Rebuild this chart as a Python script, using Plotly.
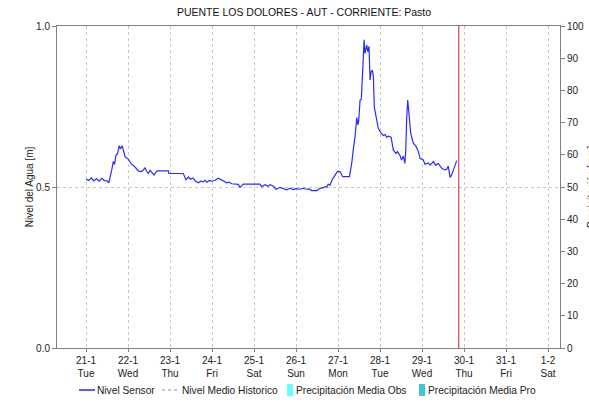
import pandas as pd
import plotly.graph_objects as go

# ---------------- data ----------------
base_date = "2025-01-21"
hours = [0, 1.5, 3, 4.5, 6, 7.5, 9, 10.5, 12, 13, 14.7, 15.6, 16.3, 17.1, 18, 18.9, 19.7, 20.7,
         22.3, 24.2, 26.1, 28, 29.9, 31.4, 32.7, 33.7, 34.7, 35.6, 36.6, 37.7, 38.9, 40, 40.7,
         47, 47.4, 55.6, 57.1, 58.5, 59.7, 61.1, 62.6, 64.2, 65.4, 66.9, 68, 69.1, 70.3, 72,
         73.7, 75.6, 76.6, 77.7, 78.9, 80.4, 81.7, 83.3, 87, 88, 89.9, 99.4, 100.4, 102.3, 104,
         105.1, 106.9, 108.6, 110.9, 112.6, 114.7, 116.6, 118.3, 120, 122.3, 124, 126.1, 127.4,
         128.9, 131.8, 133.7, 135.4, 136.6, 137.5, 138.4, 139.4, 140.4, 142.3, 143.6, 145.1,
         146.7, 150.5, 151.8, 152.8, 153.7, 154.7, 155.3, 155.8, 156.6, 157.3, 158.1, 158.9,
         159.4, 160.4, 161, 161.7, 162.3, 162.9, 163.6, 164.2, 164.7, 166.1, 167, 168.6, 169.9,
         170.9, 171.8, 172.7, 174.3, 175.6, 177.1, 177.9, 179.3, 180.3, 181.3, 182.2, 182.7,
         183.2, 183.8, 184.6, 185.5, 187, 188.6, 189.9, 190.9, 192.7, 193.7, 195.6, 196.6,
         198.5, 199.8, 201.3, 203.3, 205.1, 206.1, 207, 208, 208.9, 209.9, 210.9, 211.8]
level = [0.525, 0.520, 0.528, 0.519, 0.526, 0.518, 0.527, 0.520, 0.519, 0.513, 0.553, 0.579,
         0.570, 0.599, 0.603, 0.628, 0.618, 0.628, 0.594, 0.586, 0.570, 0.562, 0.550, 0.548,
         0.552, 0.560, 0.548, 0.542, 0.552, 0.545, 0.537, 0.546, 0.550, 0.550, 0.542, 0.542,
         0.522, 0.531, 0.524, 0.528, 0.518, 0.513, 0.518, 0.516, 0.521, 0.515, 0.520, 0.518,
         0.521, 0.527, 0.524, 0.522, 0.518, 0.513, 0.515, 0.510, 0.508, 0.499, 0.509, 0.509,
         0.501, 0.507, 0.502, 0.507, 0.503, 0.493, 0.499, 0.495, 0.491, 0.496, 0.492, 0.495,
         0.493, 0.496, 0.493, 0.494, 0.489, 0.489, 0.496, 0.497, 0.501, 0.499, 0.509, 0.505,
         0.520, 0.537, 0.548, 0.548, 0.532, 0.532, 0.573, 0.620, 0.656, 0.716, 0.693, 0.705,
         0.770, 0.772, 0.863, 0.957, 0.915, 0.941, 0.920, 0.937, 0.832, 0.858, 0.863, 0.845,
         0.749, 0.708, 0.682, 0.667, 0.660, 0.663, 0.654, 0.658, 0.655, 0.615, 0.604, 0.610,
         0.599, 0.584, 0.596, 0.573, 0.615, 0.708, 0.770, 0.724, 0.667, 0.636, 0.626, 0.610,
         0.589, 0.584, 0.571, 0.575, 0.568, 0.579, 0.568, 0.573, 0.558, 0.553, 0.555, 0.565,
         0.530, 0.537, 0.553, 0.571, 0.582]

tick_dates = ["2025-01-21", "2025-01-22", "2025-01-23", "2025-01-24", "2025-01-25",
              "2025-01-26", "2025-01-27", "2025-01-28", "2025-01-29", "2025-01-30",
              "2025-01-31", "2025-02-01"]
tick_labels = ["21-1<br>Tue", "22-1<br>Wed", "23-1<br>Thu", "24-1<br>Fri", "25-1<br>Sat",
               "26-1<br>Sun", "27-1<br>Mon", "28-1<br>Tue", "29-1<br>Wed", "30-1<br>Thu",
               "31-1<br>Fri", "1-2<br>Sat"]
x_range = ["2025-01-20 07:25", "2025-02-01 06:50"]
current_time = "2025-01-29 21:00"

title_text = "PUENTE LOS DOLORES - AUT - CORRIENTE: Pasto"
left_title = "Nivel del Agua [m]"
right_title = "Precipitación [mm]"
legend_names = ["Nivel Sensor", "Nivel Medio Historico",
                "Precipitación Media Obs", "Precipitación Media Pro"]

# ---------------- layout constants ----------------
W, H = 589, 403
ML, MR, MT, MB = 57, 29, 26, 55
PW, PH = W - ML - MR, H - MT - MB


def px_x(px):
    return (px - ML) / PW


def px_y(py):
    return (H - MB - py) / PH


FONT = "Liberation Sans, Arial, sans-serif"
GRID = "#c8c8c8"
AXIS = "#808080"
TXT = "#222222"

# ---------------- figure ----------------
times = pd.Timestamp(base_date) + pd.to_timedelta(hours, unit="h")

fig = go.Figure()
fig.add_trace(go.Scatter(x=times, y=level, mode="lines", name=legend_names[0],
                         line=dict(color="#2b2bff", width=1.2), showlegend=False))

# "now" marker
fig.add_shape(type="line", x0=current_time, x1=current_time, y0=0, y1=1,
              xref="x", yref="paper", line=dict(color="#c81e1e", width=1))

# legend drawn below the plot (one row, as in the reference)
LEG_Y = 390
leg_items = [
    dict(kind="line", x0=79, x1=95, tx=96, color="#0000ff", dash="solid"),
    dict(kind="line", x0=162, x1=178, tx=181, color="#b8b8b8", dash="dot"),
    dict(kind="rect", x0=287, x1=293, tx=295, color="#66ffff"),
    dict(kind="rect", x0=419, x1=425, tx=427, color="#40c8c8"),
]
for name, it in zip(legend_names, leg_items):
    if it["kind"] == "line":
        fig.add_shape(type="line", xref="paper", yref="paper",
                      x0=px_x(it["x0"]), x1=px_x(it["x1"]),
                      y0=px_y(LEG_Y), y1=px_y(LEG_Y),
                      line=dict(color=it["color"], width=1.3, dash=it["dash"]))
    else:
        fig.add_shape(type="rect", xref="paper", yref="paper",
                      x0=px_x(it["x0"]), x1=px_x(it["x1"]),
                      y0=px_y(LEG_Y + 6), y1=px_y(LEG_Y - 6),
                      fillcolor=it["color"], line=dict(width=0))
    fig.add_annotation(text=name, xref="paper", yref="paper", x=px_x(it["tx"]),
                       y=px_y(LEG_Y), xanchor="left", yanchor="middle", showarrow=False,
                       borderpad=0, font=dict(size=10.2, color=TXT, family=FONT))

# right-axis title: sits at the canvas edge, mostly cut off as in the reference
fig.add_annotation(text=right_title, xref="paper", yref="paper", x=px_x(591), y=0.5,
                   xanchor="center", yanchor="middle", textangle=-90, showarrow=False,
                   font=dict(size=10, color=TXT, family=FONT))

fig.update_layout(
    width=W, height=H,
    margin=dict(l=ML, r=MR, t=MT, b=MB, autoexpand=False),
    paper_bgcolor="white", plot_bgcolor="white",
    font=dict(family=FONT, size=10, color=TXT),
    title=dict(text=title_text, x=px_x(304), xref="paper", y=1 - 12 / H, yref="container",
               yanchor="middle", xanchor="center", font=dict(size=10.5, color="#111111"),
               automargin=False),
    showlegend=False,
    xaxis=dict(type="date", range=x_range, tickmode="array", tickvals=tick_dates,
               ticktext=tick_labels, showgrid=True, gridcolor=GRID, griddash="dot",
               gridwidth=1, showline=True, linecolor=AXIS, mirror=True, ticks="outside",
               ticklen=3, tickcolor=AXIS, zeroline=False, tickfont=dict(size=10),
               automargin=False),
    yaxis=dict(range=[0, 1], tickmode="array", tickvals=[0, 0.5, 1.0],
               ticktext=["0.0", "0.5", "1.0"], showgrid=True, gridcolor=GRID,
               griddash="dot", showline=True, linecolor=AXIS, ticks="outside", ticklen=4,
               tickcolor=AXIS, zeroline=False, automargin=False,
               title=dict(text=left_title, font=dict(size=10), standoff=0)),
    yaxis2=dict(range=[0, 100], overlaying="y", side="right", dtick=10, showgrid=False,
                showline=True, linecolor=AXIS, ticks="outside", ticklen=4, tickcolor=AXIS,
                zeroline=False, automargin=False),
)
# dummy trace to activate the right axis (no visible marks)
fig.add_trace(go.Scatter(x=[None], y=[None], yaxis="y2", showlegend=False,
                         hoverinfo="skip"))

fig.write_html("out.html", config={"displayModeBar": False},
               post_script="document.body.style.margin='0';")
